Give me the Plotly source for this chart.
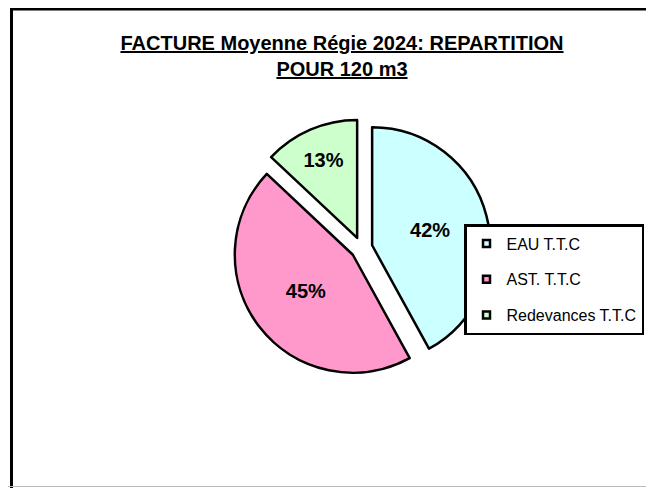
import plotly.graph_objects as go

labels = ["EAU T.T.C", "AST. T.T.C", "Redevances T.T.C"]
values = [42, 45, 13]
colors = ["#CCFFFF", "#FF99CC", "#CCFFCC"]

W, H = 654, 488
OFF = 8  # page body margin shifts the figure by 8px


def px(x):
    return (x - OFF) / W


def py(y):
    return 1 - (y - OFF) / H


fig = go.Figure()
fig.add_trace(
    go.Pie(
        labels=labels,
        values=values,
        sort=False,
        direction="clockwise",
        rotation=0,
        pull=[0.093] * 3,
        marker=dict(colors=colors, line=dict(color="black", width=2.5)),
        texttemplate="%{percent:.0%}",
        textposition="inside",
        insidetextorientation="horizontal",
        textfont=dict(family="Arial", size=20, color="black", weight="bold"),
        domain=dict(x=[px(232.5), px(490.5)], y=[py(377), py(119)]),
        showlegend=False,
    )
)

# legend entries (small bordered squares like the original)
for lab, col in zip(labels, colors):
    fig.add_trace(
        go.Scatter(
            x=[None], y=[None], name=lab, legendgroup=lab, mode="markers",
            marker=dict(symbol="square", size=7, color=col,
                        line=dict(color="black", width=2.5)),
        )
    )

# outer chart frame (left + top visible, runs off right/bottom)
fig.add_shape(type="rect", xref="paper", yref="paper",
              x0=px(11.5), x1=1.02, y0=-0.02, y1=1 - 1 / H,
              line=dict(color="black", width=3), layer="below")
fig.add_shape(type="line", xref="paper", yref="paper",
              x0=0, x1=1, y0=py(486.5), y1=py(486.5),
              line=dict(color="#BBBBBB", width=1))

fig.update_layout(
    width=W, height=H,
    margin=dict(l=0, r=0, t=0, b=0),
    paper_bgcolor="white",
    plot_bgcolor="white",
    xaxis=dict(visible=False),
    yaxis=dict(visible=False),
    font=dict(family="Arial", color="black"),
    title=dict(
        text="<b><u>FACTURE Moyenne Régie 2024: REPARTITION</u></b><br><b><u>POUR 120 m3</u></b>",
        x=px(342), xanchor="center", y=py(50), yanchor="top",
        font=dict(family="Arial", size=20, color="black"),
    ),
    legend=dict(
        x=px(464), xanchor="left", y=py(224), yanchor="top",
        bgcolor="white", bordercolor="black", borderwidth=2.5,
        font=dict(family="Arial", size=16, color="black"),
        traceorder="grouped", tracegroupgap=12,
        itemwidth=30,
    ),
    showlegend=True,
)

fig.write_html("out.html")
